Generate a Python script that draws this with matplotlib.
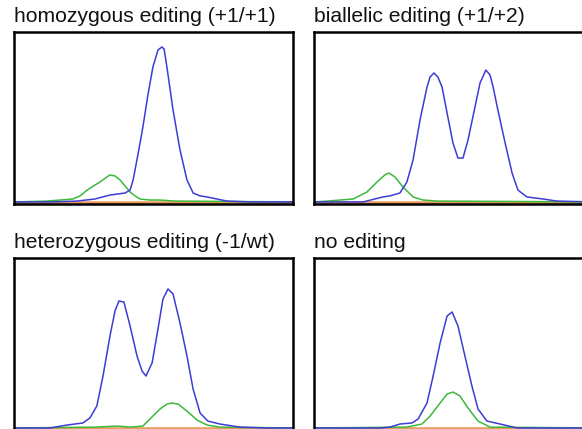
import matplotlib
matplotlib.use("Agg")
import matplotlib.pyplot as plt

plt.rcParams['font.family'] = ['Liberation Sans', 'DejaVu Sans']

titles = ["homozygous editing (+1/+1)", "biallelic editing (+1/+2)",
          "heterozygous editing (-1/wt)", "no editing"]

# panel 1: homozygous
blue1_x = [0, 12.9, 22.6, 29.0, 34.4, 39.8, 41.6, 42.7, 44.4, 46.2, 48.0, 49.8, 51.6, 53.0, 53.8,
           54.8, 57.0, 59.5, 62.0, 64.2, 66.7, 69.2, 76.3, 84.6, 100]
blue1_y = [1.2, 1.2, 1.7, 2.9, 5.2, 6.4, 8.1, 14.0, 28.5, 44.8, 63.4, 79.7, 89.5, 91.3, 90.1,
           79.7, 54.7, 31.4, 14.0, 6.4, 4.7, 4.1, 1.7, 1.2, 1.2]
green1_x = [0, 11.8, 21.1, 23.7, 26.2, 29.0, 30.8, 33.3, 34.4, 36.2, 38.0, 39.8, 41.6, 43.4, 45.2,
            48.7, 52.3, 57.7, 100]
green1_y = [1.2, 1.7, 2.9, 4.7, 8.1, 11.0, 12.8, 15.7, 16.9, 16.3, 14.0, 10.5, 7.0, 4.7, 2.9,
            2.3, 2.3, 1.7, 1.2]

# panel 2: biallelic
blue2_x = [0, 17.6, 24.7, 27.2, 30.8, 33.3, 35.5, 38.0, 40.5, 41.6, 43.0, 44.4, 45.9, 47.7, 49.8,
           51.6, 53.4, 55.2, 57.7, 59.5, 61.6, 63.1, 64.2, 65.9, 68.5, 71.0, 73.1, 76.3, 82.1,
           87.1, 100]
blue2_y = [1.2, 1.2, 4.1, 4.7, 6.4, 12.8, 25.6, 48.8, 68.0, 73.8, 76.2, 73.8, 68.0, 52.9, 35.5,
           26.7, 26.7, 37.2, 56.4, 70.3, 77.9, 75.0, 68.0, 54.7, 35.5, 18.0, 8.1, 4.1, 2.9,
           1.7, 1.2]
green2_x = [0, 4.7, 14.0, 19.0, 22.6, 25.4, 26.9, 29.0, 31.9, 35.5, 39.1, 44.1, 100]
green2_y = [1.2, 1.7, 2.9, 7.0, 12.8, 16.9, 18.0, 15.7, 9.9, 4.1, 2.3, 1.7, 1.2]

# panel 3: heterozygous
blue3_x = [0, 12.9, 19.0, 24.7, 27.2, 29.7, 31.9, 34.4, 36.2, 37.6, 39.4, 41.6, 44.1, 45.9, 47.3,
           49.5, 51.6, 53.4, 55.2, 57.0, 59.5, 62.0, 64.2, 66.7, 69.5, 73.8, 81.0, 90.7, 100]
blue3_y = [1.2, 1.2, 2.9, 4.1, 7.0, 14.0, 31.4, 54.7, 69.2, 75.0, 74.4, 60.5, 43.0, 34.3, 31.4,
           39.0, 58.7, 76.2, 82.0, 79.1, 62.2, 43.0, 23.8, 9.9, 5.2, 3.5, 1.7, 1.2, 1.2]
green3_x = [0, 29.0, 37.3, 41.6, 46.2, 48.7, 52.3, 54.8, 56.6, 58.8, 62.0, 65.6, 69.2, 73.8, 100]
green3_y = [1.2, 1.7, 2.3, 1.7, 2.3, 6.4, 12.2, 15.1, 15.7, 15.1, 11.0, 5.8, 2.9, 1.7, 1.2]

# panel 4: no editing
blue4_x = [0, 23.7, 27.2, 30.8, 35.1, 37.3, 40.5, 42.7, 45.2, 47.7, 49.5, 51.6, 54.1, 56.6, 58.8,
           62.0, 66.7, 72.8, 100]
blue4_y = [1.2, 1.2, 1.7, 3.5, 4.1, 6.4, 15.7, 31.4, 50.6, 66.3, 68.6, 60.5, 43.0, 25.6, 12.2,
           5.2, 3.5, 1.2, 1.2]
green4_x = [0, 33.3, 38.7, 41.6, 45.2, 47.7, 49.8, 52.3, 55.2, 58.8, 63.1, 100]
green4_y = [1.2, 1.7, 3.5, 8.1, 15.7, 20.9, 22.1, 19.8, 12.8, 5.2, 1.7, 1.2]

# flat background traces
base_x = [0, 100]
orange_y = [1.4, 1.4]
red_y = [0.8, 0.8]

blues = [(blue1_x, blue1_y), (blue2_x, blue2_y), (blue3_x, blue3_y), (blue4_x, blue4_y)]
greens = [(green1_x, green1_y), (green2_x, green2_y), (green3_x, green3_y), (green4_x, green4_y)]

W, H = 582, 429
fig = plt.figure(figsize=(W / 100, H / 100), dpi=100)

# panel boxes in pixels: left, top, height, lower y-limit
pw = 279
boxes = [(14, 32, 172, 0), (314, 32, 172, 0), (14, 258, 176, -2.3), (314, 258, 176, -2.3)]

for i, (bx, by, ph, ylo) in enumerate(boxes):
    ax = fig.add_axes([bx / W, 1 - (by + ph) / H, pw / W, ph / H])
    ax.plot(base_x, red_y, color='#b86a4a', lw=2.0)
    ax.plot(base_x, orange_y, color='#e89a5a', lw=1.8)
    ax.plot(*greens[i], color='#3cb83c', lw=1.1)
    ax.plot(*blues[i], color='#3c3cd6', lw=1.1)
    ax.set_xlim(0, 100)
    ax.set_ylim(ylo, 100)
    ax.set_xticks([])
    ax.set_yticks([])
    for s in ax.spines.values():
        s.set_linewidth(1.8)
        s.set_color('black')
    fig.text(bx / W, 1 - (by - 10) / H, titles[i], fontsize=15.2, ha='left', va='baseline',
             color='#111111')

fig.savefig('out.png', dpi=100)
